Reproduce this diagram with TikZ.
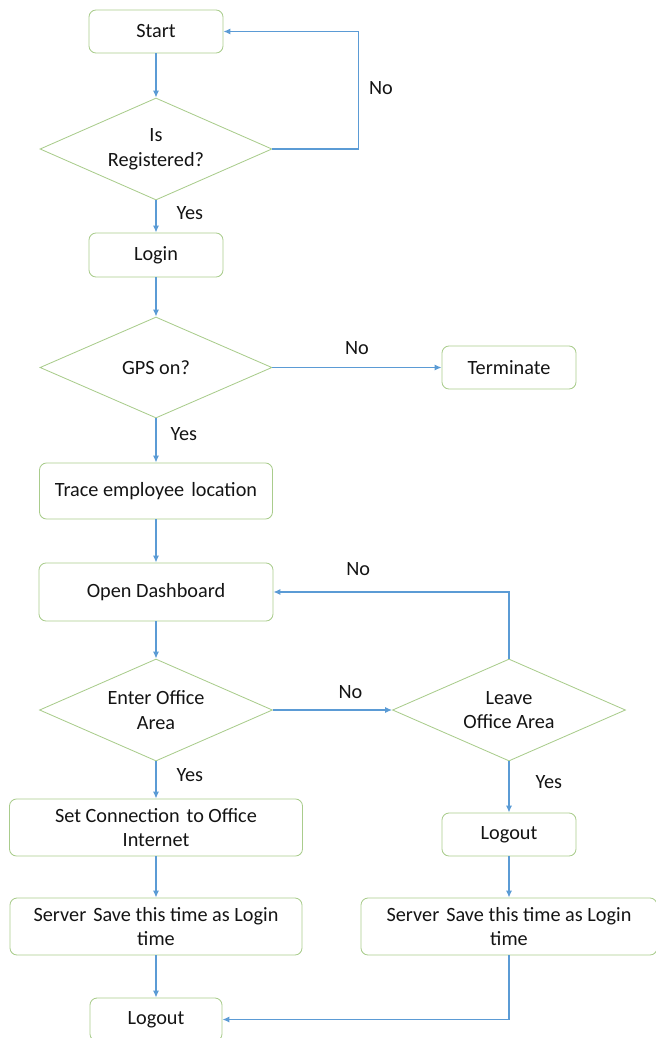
\documentclass[tikz,border=0pt]{standalone}
\usepackage{fontspec}
\setmainfont{Carlito}
\usetikzlibrary{arrows.meta}
\usetikzlibrary{positioning}
\usetikzlibrary{shapes.geometric}
\definecolor{boxgreen}{RGB}{169,204,140}
\definecolor{flowblue}{RGB}{91,155,213}
\definecolor{inkgray}{RGB}{20,20,20}
\newcommand{\widegap}{\ \hspace{0.12em}}

\begin{document}
\begin{tikzpicture}[
					font=\fontsize{14.4}{17.5}\selectfont,
					text=inkgray,
					block/.style={draw=boxgreen, line width=0.6pt, rounded corners=5pt, align=center, inner sep=0pt},
					decision/.style={draw=boxgreen, line width=0.6pt, diamond, aspect=2.3, minimum width=5.8cm, minimum height=2.55cm, align=center, inner sep=0pt},
					arrow/.style={draw=flowblue, line width=1.2pt, -{Latex[length=5pt, width=4.5pt]}},
					answer/.style={inner sep=1pt},
				]
			        \useasboundingbox (0, 0) rectangle (16.4, -25.95);

			        % left column
			        \node[block, minimum width=3.35cm, minimum height=1.075cm] (start) at (3.9, -0.7875) {Start};
			        \node[decision] (reg) at (3.9, -3.725) {Is\\Registered?};
			        \node[block, minimum width=3.35cm, minimum height=1.1cm] (login) at (3.9, -6.375) {Login};
			        \node[decision, minimum height=2.525cm] (gps) at (3.9, -9.1875) {GPS on?};
			        \node[block, minimum width=5.825cm, minimum height=1.4cm] (trace) at (3.9, -12.275) {Trace employee\widegap location};
			        \node[block, minimum width=5.85cm, minimum height=1.45cm] (dash) at (3.9, -14.8) {Open Dashboard};
			        \node[decision, minimum width=5.825cm] (enter) at (3.9, -17.75) {Enter Office\\Area};
			        \node[block, minimum width=7.325cm, minimum height=1.425cm] (conn) at (3.9, -20.6875) {Set Connection\widegap to Office\\Internet};
			        \node[block, minimum width=7.3cm, minimum height=1.425cm] (lserv) at (3.9, -23.1625) {Server\widegap Save this time as Login\\time};
			        \node[block, minimum width=3.3cm, minimum height=1.075cm] (blogout) at (3.9, -25.4875) {Logout};

			        % right column
			        \node[block, minimum width=3.35cm, minimum height=1.075cm] (term) at (12.725, -9.1875) {Terminate};
			        \node[decision, minimum width=5.825cm] (leave) at (12.725, -17.75) {Leave\\Office Area};
			        \node[block, minimum width=3.35cm, minimum height=1.075cm] (rlogout) at (12.725, -20.8625) {Logout};
			        \node[block, minimum width=7.4cm, minimum height=1.425cm] (rserv) at (12.725, -23.1625) {Server\widegap Save this time as Login\\time};

			        \draw[arrow] (start) -- (reg);
			        \draw[arrow] (reg.east) -- ++(2.15, 0) |- node[answer, pos=0.26, right=0.21cm] {No} (start.east);
			        \draw[arrow] (reg) -- node[answer, pos=0.4, right=0.46cm] {Yes} (login);
			        \draw[arrow] (login) -- (gps);
			        \draw[arrow] (gps) -- node[answer, midway, above=0.265cm] {No} (term);
			        \draw[arrow] (gps) -- node[answer, pos=0.36, right=0.31cm] {Yes} (trace);
			        \draw[arrow] (trace) -- (dash);
			        \draw[arrow] (dash) -- (enter);
			        \draw[arrow] (enter) -- node[answer, pos=0.65, above=0.225cm] {No} (leave);
			        \draw[arrow] (leave.north) |- node[answer, pos=0.82, above=0.35cm] {No} (dash.east);
			        \draw[arrow] (enter) -- node[answer, pos=0.37, right=0.46cm] {Yes} (conn);
			        \draw[arrow] (leave) -- node[answer, pos=0.4, right=0.61cm] {Yes} (rlogout);
			        \draw[arrow] (conn) -- (lserv);
			        \draw[arrow] (lserv) -- (blogout);
			        \draw[arrow] (rlogout) -- (rserv);
			        \draw[arrow] (rserv.south) |- (blogout.east);
			    \end{tikzpicture}
\end{document}
